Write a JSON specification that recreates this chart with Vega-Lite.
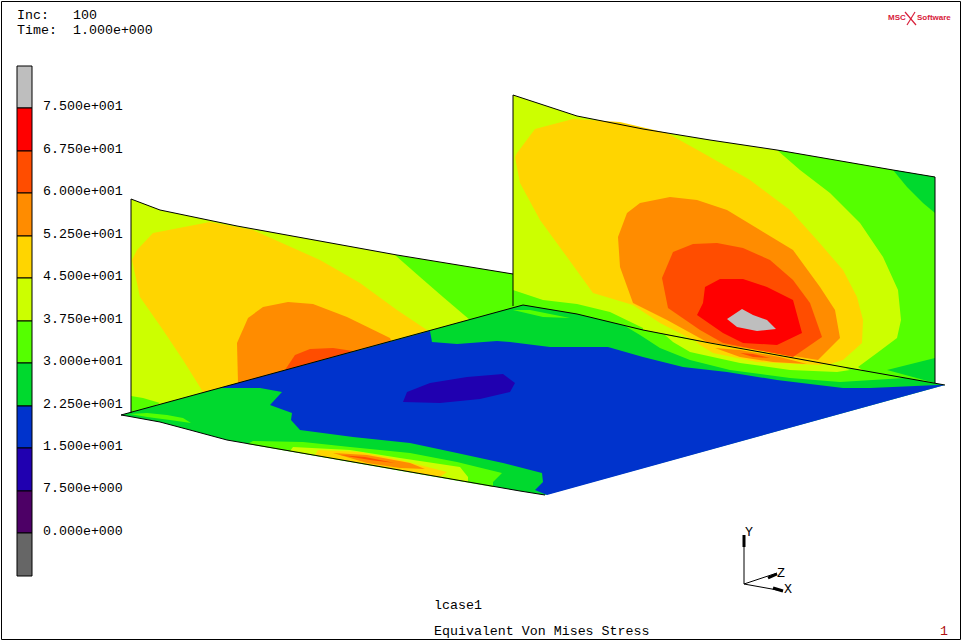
{"$schema":"https://vega.github.io/schema/vega-lite/v6.json","autosize":{"type":"none"},"width":962,"height":642,"padding":0,"background":"white","view":{"stroke":null},
"datasets":{
"patches":[
{"poly":"L0","level":"37.5-45","x":131,"y":199},{"poly":"L0","level":"37.5-45","x":160,"y":210},{"poly":"L0","level":"37.5-45","x":237,"y":226},{"poly":"L0","level":"37.5-45","x":397,"y":255},{"poly":"L0","level":"37.5-45","x":513,"y":274},{"poly":"L0","level":"37.5-45","x":513,"y":320},{"poly":"L0","level":"37.5-45","x":131,"y":414},
{"poly":"L1","level":"30-37.5","x":395,"y":255},{"poly":"L1","level":"30-37.5","x":420,"y":277},{"poly":"L1","level":"30-37.5","x":443,"y":297},{"poly":"L1","level":"30-37.5","x":470,"y":320},{"poly":"L1","level":"30-37.5","x":513,"y":312},{"poly":"L1","level":"30-37.5","x":513,"y":274},
{"poly":"L2","level":"30-37.5","x":131,"y":396},{"poly":"L2","level":"30-37.5","x":143,"y":398},{"poly":"L2","level":"30-37.5","x":160,"y":403},{"poly":"L2","level":"30-37.5","x":140,"y":413},{"poly":"L2","level":"30-37.5","x":131,"y":414},
{"poly":"L3","level":"45-52.5","x":210,"y":222},{"poly":"L3","level":"45-52.5","x":153,"y":233},{"poly":"L3","level":"45-52.5","x":137,"y":250},{"poly":"L3","level":"45-52.5","x":132,"y":260},{"poly":"L3","level":"45-52.5","x":140,"y":297},{"poly":"L3","level":"45-52.5","x":163,"y":330},{"poly":"L3","level":"45-52.5","x":183,"y":360},{"poly":"L3","level":"45-52.5","x":203,"y":392},{"poly":"L3","level":"45-52.5","x":220,"y":395},{"poly":"L3","level":"45-52.5","x":440,"y":340},{"poly":"L3","level":"45-52.5","x":427,"y":330},{"poly":"L3","level":"45-52.5","x":397,"y":310},{"poly":"L3","level":"45-52.5","x":360,"y":283},{"poly":"L3","level":"45-52.5","x":320,"y":260},{"poly":"L3","level":"45-52.5","x":253,"y":230},
{"poly":"L4","level":"52.5-60","x":288,"y":302},{"poly":"L4","level":"52.5-60","x":263,"y":307},{"poly":"L4","level":"52.5-60","x":248,"y":318},{"poly":"L4","level":"52.5-60","x":237,"y":343},{"poly":"L4","level":"52.5-60","x":238,"y":383},{"poly":"L4","level":"52.5-60","x":240,"y":395},{"poly":"L4","level":"52.5-60","x":400,"y":360},{"poly":"L4","level":"52.5-60","x":390,"y":338},{"poly":"L4","level":"52.5-60","x":347,"y":317},{"poly":"L4","level":"52.5-60","x":313,"y":304},
{"poly":"L5","level":"60-67.5","x":285,"y":370},{"poly":"L5","level":"60-67.5","x":295,"y":355},{"poly":"L5","level":"60-67.5","x":310,"y":349},{"poly":"L5","level":"60-67.5","x":333,"y":348},{"poly":"L5","level":"60-67.5","x":353,"y":351},{"poly":"L5","level":"60-67.5","x":370,"y":360},{"poly":"L5","level":"60-67.5","x":290,"y":380},
{"poly":"R0","level":"37.5-45","x":513,"y":95},{"poly":"R0","level":"37.5-45","x":577,"y":116},{"poly":"R0","level":"37.5-45","x":643,"y":129},{"poly":"R0","level":"37.5-45","x":710,"y":140},{"poly":"R0","level":"37.5-45","x":777,"y":150},{"poly":"R0","level":"37.5-45","x":893,"y":170},{"poly":"R0","level":"37.5-45","x":935,"y":177},{"poly":"R0","level":"37.5-45","x":935,"y":383},{"poly":"R0","level":"37.5-45","x":513,"y":312},
{"poly":"R1","level":"30-37.5","x":777,"y":150},{"poly":"R1","level":"30-37.5","x":800,"y":170},{"poly":"R1","level":"30-37.5","x":830,"y":193},{"poly":"R1","level":"30-37.5","x":860,"y":223},{"poly":"R1","level":"30-37.5","x":883,"y":257},{"poly":"R1","level":"30-37.5","x":898,"y":290},{"poly":"R1","level":"30-37.5","x":901,"y":320},{"poly":"R1","level":"30-37.5","x":897,"y":338},{"poly":"R1","level":"30-37.5","x":877,"y":353},{"poly":"R1","level":"30-37.5","x":858,"y":367},{"poly":"R1","level":"30-37.5","x":870,"y":375},{"poly":"R1","level":"30-37.5","x":935,"y":383},{"poly":"R1","level":"30-37.5","x":935,"y":177},{"poly":"R1","level":"30-37.5","x":893,"y":170},
{"poly":"R2","level":"30-37.5","x":513,"y":290},{"poly":"R2","level":"30-37.5","x":543,"y":300},{"poly":"R2","level":"30-37.5","x":577,"y":304},{"poly":"R2","level":"30-37.5","x":610,"y":312},{"poly":"R2","level":"30-37.5","x":643,"y":328},{"poly":"R2","level":"30-37.5","x":643,"y":335},{"poly":"R2","level":"30-37.5","x":513,"y":312},
{"poly":"R3","level":"22.5-30","x":893,"y":170},{"poly":"R3","level":"22.5-30","x":907,"y":187},{"poly":"R3","level":"22.5-30","x":923,"y":203},{"poly":"R3","level":"22.5-30","x":935,"y":213},{"poly":"R3","level":"22.5-30","x":935,"y":177},
{"poly":"R4","level":"22.5-30","x":887,"y":370},{"poly":"R4","level":"22.5-30","x":935,"y":358},{"poly":"R4","level":"22.5-30","x":935,"y":383},
{"poly":"R5","level":"45-52.5","x":573,"y":119},{"poly":"R5","level":"45-52.5","x":535,"y":129},{"poly":"R5","level":"45-52.5","x":517,"y":153},{"poly":"R5","level":"45-52.5","x":515,"y":157},{"poly":"R5","level":"45-52.5","x":520,"y":183},{"poly":"R5","level":"45-52.5","x":540,"y":220},{"poly":"R5","level":"45-52.5","x":567,"y":257},{"poly":"R5","level":"45-52.5","x":593,"y":293},{"poly":"R5","level":"45-52.5","x":633,"y":305},{"poly":"R5","level":"45-52.5","x":660,"y":323},{"poly":"R5","level":"45-52.5","x":697,"y":342},{"poly":"R5","level":"45-52.5","x":827,"y":365},{"poly":"R5","level":"45-52.5","x":843,"y":360},{"poly":"R5","level":"45-52.5","x":862,"y":343},{"poly":"R5","level":"45-52.5","x":863,"y":320},{"poly":"R5","level":"45-52.5","x":857,"y":297},{"poly":"R5","level":"45-52.5","x":843,"y":270},{"poly":"R5","level":"45-52.5","x":817,"y":240},{"poly":"R5","level":"45-52.5","x":790,"y":210},{"poly":"R5","level":"45-52.5","x":750,"y":180},{"poly":"R5","level":"45-52.5","x":710,"y":157},{"poly":"R5","level":"45-52.5","x":667,"y":133},{"poly":"R5","level":"45-52.5","x":620,"y":122},
{"poly":"R6","level":"52.5-60","x":670,"y":197},{"poly":"R6","level":"52.5-60","x":640,"y":203},{"poly":"R6","level":"52.5-60","x":627,"y":213},{"poly":"R6","level":"52.5-60","x":618,"y":237},{"poly":"R6","level":"52.5-60","x":620,"y":267},{"poly":"R6","level":"52.5-60","x":633,"y":303},{"poly":"R6","level":"52.5-60","x":667,"y":320},{"poly":"R6","level":"52.5-60","x":707,"y":342},{"poly":"R6","level":"52.5-60","x":818,"y":360},{"poly":"R6","level":"52.5-60","x":840,"y":338},{"poly":"R6","level":"52.5-60","x":835,"y":310},{"poly":"R6","level":"52.5-60","x":820,"y":287},{"poly":"R6","level":"52.5-60","x":793,"y":250},{"poly":"R6","level":"52.5-60","x":760,"y":230},{"poly":"R6","level":"52.5-60","x":727,"y":210},{"poly":"R6","level":"52.5-60","x":697,"y":200},
{"poly":"R7","level":"60-67.5","x":693,"y":244},{"poly":"R7","level":"60-67.5","x":673,"y":252},{"poly":"R7","level":"60-67.5","x":662,"y":278},{"poly":"R7","level":"60-67.5","x":668,"y":308},{"poly":"R7","level":"60-67.5","x":700,"y":330},{"poly":"R7","level":"60-67.5","x":723,"y":343},{"poly":"R7","level":"60-67.5","x":793,"y":357},{"poly":"R7","level":"60-67.5","x":822,"y":337},{"poly":"R7","level":"60-67.5","x":810,"y":303},{"poly":"R7","level":"60-67.5","x":793,"y":280},{"poly":"R7","level":"60-67.5","x":770,"y":260},{"poly":"R7","level":"60-67.5","x":743,"y":248},{"poly":"R7","level":"60-67.5","x":717,"y":243},
{"poly":"R8","level":"67.5-75","x":720,"y":279},{"poly":"R8","level":"67.5-75","x":705,"y":287},{"poly":"R8","level":"67.5-75","x":703,"y":303},{"poly":"R8","level":"67.5-75","x":697,"y":315},{"poly":"R8","level":"67.5-75","x":723,"y":333},{"poly":"R8","level":"67.5-75","x":743,"y":343},{"poly":"R8","level":"67.5-75","x":777,"y":345},{"poly":"R8","level":"67.5-75","x":802,"y":333},{"poly":"R8","level":"67.5-75","x":793,"y":300},{"poly":"R8","level":"67.5-75","x":767,"y":287},{"poly":"R8","level":"67.5-75","x":743,"y":279},
{"poly":"R9","level":"over 75","x":742,"y":309},{"poly":"R9","level":"over 75","x":727,"y":319},{"poly":"R9","level":"over 75","x":737,"y":327},{"poly":"R9","level":"over 75","x":757,"y":331},{"poly":"R9","level":"over 75","x":776,"y":329},{"poly":"R9","level":"over 75","x":767,"y":320},{"poly":"R9","level":"over 75","x":753,"y":315},
{"poly":"F0","level":"22.5-30","x":121,"y":415},{"poly":"F0","level":"22.5-30","x":523,"y":305},{"poly":"F0","level":"22.5-30","x":577,"y":314},{"poly":"F0","level":"22.5-30","x":643,"y":330},{"poly":"F0","level":"22.5-30","x":710,"y":343},{"poly":"F0","level":"22.5-30","x":777,"y":355},{"poly":"F0","level":"22.5-30","x":843,"y":367},{"poly":"F0","level":"22.5-30","x":945,"y":385},{"poly":"F0","level":"22.5-30","x":545,"y":495},{"poly":"F0","level":"22.5-30","x":520,"y":491},{"poly":"F0","level":"22.5-30","x":227,"y":440},{"poly":"F0","level":"22.5-30","x":190,"y":430},{"poly":"F0","level":"22.5-30","x":160,"y":422},{"poly":"F0","level":"22.5-30","x":127,"y":416},
{"poly":"F1","level":"15-22.5","x":220,"y":388},{"poly":"F1","level":"15-22.5","x":260,"y":388},{"poly":"F1","level":"15-22.5","x":282,"y":392},{"poly":"F1","level":"15-22.5","x":270,"y":405},{"poly":"F1","level":"15-22.5","x":292,"y":413},{"poly":"F1","level":"15-22.5","x":291,"y":420},{"poly":"F1","level":"15-22.5","x":300,"y":430},{"poly":"F1","level":"15-22.5","x":353,"y":437},{"poly":"F1","level":"15-22.5","x":410,"y":443},{"poly":"F1","level":"15-22.5","x":457,"y":453},{"poly":"F1","level":"15-22.5","x":503,"y":463},{"poly":"F1","level":"15-22.5","x":542,"y":473},{"poly":"F1","level":"15-22.5","x":543,"y":482},{"poly":"F1","level":"15-22.5","x":535,"y":490},{"poly":"F1","level":"15-22.5","x":547,"y":495},{"poly":"F1","level":"15-22.5","x":945,"y":385},{"poly":"F1","level":"15-22.5","x":938,"y":385},{"poly":"F1","level":"15-22.5","x":870,"y":388},{"poly":"F1","level":"15-22.5","x":843,"y":388},{"poly":"F1","level":"15-22.5","x":777,"y":380},{"poly":"F1","level":"15-22.5","x":727,"y":372},{"poly":"F1","level":"15-22.5","x":683,"y":367},{"poly":"F1","level":"15-22.5","x":643,"y":357},{"poly":"F1","level":"15-22.5","x":608,"y":347},{"poly":"F1","level":"15-22.5","x":550,"y":347},{"poly":"F1","level":"15-22.5","x":510,"y":342},{"poly":"F1","level":"15-22.5","x":497,"y":341},{"poly":"F1","level":"15-22.5","x":457,"y":344},{"poly":"F1","level":"15-22.5","x":432,"y":342},{"poly":"F1","level":"15-22.5","x":430,"y":331},
{"poly":"F2","level":"7.5-15","x":403,"y":402},{"poly":"F2","level":"7.5-15","x":407,"y":392},{"poly":"F2","level":"7.5-15","x":430,"y":383},{"poly":"F2","level":"7.5-15","x":467,"y":377},{"poly":"F2","level":"7.5-15","x":503,"y":374},{"poly":"F2","level":"7.5-15","x":515,"y":383},{"poly":"F2","level":"7.5-15","x":510,"y":392},{"poly":"F2","level":"7.5-15","x":480,"y":399},{"poly":"F2","level":"7.5-15","x":440,"y":403},
{"poly":"F3","level":"30-37.5","x":513,"y":310},{"poly":"F3","level":"30-37.5","x":530,"y":310},{"poly":"F3","level":"30-37.5","x":570,"y":318},{"poly":"F3","level":"30-37.5","x":543,"y":317},
{"poly":"F4","level":"30-37.5","x":625,"y":326},{"poly":"F4","level":"30-37.5","x":643,"y":330},{"poly":"F4","level":"30-37.5","x":710,"y":343},{"poly":"F4","level":"30-37.5","x":777,"y":355},{"poly":"F4","level":"30-37.5","x":843,"y":367},{"poly":"F4","level":"30-37.5","x":905,"y":378},{"poly":"F4","level":"30-37.5","x":840,"y":382},{"poly":"F4","level":"30-37.5","x":790,"y":378},{"poly":"F4","level":"30-37.5","x":730,"y":370},{"poly":"F4","level":"30-37.5","x":690,"y":360},{"poly":"F4","level":"30-37.5","x":660,"y":348},{"poly":"F4","level":"30-37.5","x":640,"y":335},
{"poly":"F5","level":"37.5-45","x":665,"y":335},{"poly":"F5","level":"37.5-45","x":710,"y":343},{"poly":"F5","level":"37.5-45","x":777,"y":355},{"poly":"F5","level":"37.5-45","x":843,"y":367},{"poly":"F5","level":"37.5-45","x":850,"y":370},{"poly":"F5","level":"37.5-45","x":837,"y":372},{"poly":"F5","level":"37.5-45","x":790,"y":370},{"poly":"F5","level":"37.5-45","x":740,"y":363},{"poly":"F5","level":"37.5-45","x":690,"y":352},{"poly":"F5","level":"37.5-45","x":673,"y":342},
{"poly":"F6","level":"45-52.5","x":695,"y":341},{"poly":"F6","level":"45-52.5","x":777,"y":355},{"poly":"F6","level":"45-52.5","x":825,"y":364},{"poly":"F6","level":"45-52.5","x":820,"y":365},{"poly":"F6","level":"45-52.5","x":757,"y":362},{"poly":"F6","level":"45-52.5","x":713,"y":353},{"poly":"F6","level":"45-52.5","x":700,"y":345},
{"poly":"F7","level":"52.5-60","x":715,"y":348},{"poly":"F7","level":"52.5-60","x":740,"y":350},{"poly":"F7","level":"52.5-60","x":780,"y":357},{"poly":"F7","level":"52.5-60","x":807,"y":364},{"poly":"F7","level":"52.5-60","x":773,"y":362},{"poly":"F7","level":"52.5-60","x":740,"y":357},
{"poly":"F8","level":"60-67.5","x":740,"y":353},{"poly":"F8","level":"60-67.5","x":753,"y":354},{"poly":"F8","level":"60-67.5","x":770,"y":358},{"poly":"F8","level":"60-67.5","x":753,"y":357},
{"poly":"F9","level":"30-37.5","x":130,"y":414},{"poly":"F9","level":"30-37.5","x":147,"y":413},{"poly":"F9","level":"30-37.5","x":167,"y":415},{"poly":"F9","level":"30-37.5","x":183,"y":418},{"poly":"F9","level":"30-37.5","x":191,"y":423},{"poly":"F9","level":"30-37.5","x":170,"y":420},{"poly":"F9","level":"30-37.5","x":147,"y":417},
{"poly":"F10","level":"30-37.5","x":253,"y":441},{"poly":"F10","level":"30-37.5","x":303,"y":442},{"poly":"F10","level":"30-37.5","x":350,"y":447},{"poly":"F10","level":"30-37.5","x":410,"y":453},{"poly":"F10","level":"30-37.5","x":457,"y":462},{"poly":"F10","level":"30-37.5","x":502,"y":473},{"poly":"F10","level":"30-37.5","x":493,"y":482},{"poly":"F10","level":"30-37.5","x":493,"y":487},{"poly":"F10","level":"30-37.5","x":247,"y":444},
{"poly":"F11","level":"37.5-45","x":293,"y":447},{"poly":"F11","level":"37.5-45","x":350,"y":450},{"poly":"F11","level":"37.5-45","x":400,"y":458},{"poly":"F11","level":"37.5-45","x":460,"y":467},{"poly":"F11","level":"37.5-45","x":468,"y":477},{"poly":"F11","level":"37.5-45","x":468,"y":482},{"poly":"F11","level":"37.5-45","x":290,"y":451},
{"poly":"F12","level":"45-52.5","x":318,"y":450},{"poly":"F12","level":"45-52.5","x":360,"y":452},{"poly":"F12","level":"45-52.5","x":400,"y":460},{"poly":"F12","level":"45-52.5","x":447,"y":472},{"poly":"F12","level":"45-52.5","x":440,"y":477},{"poly":"F12","level":"45-52.5","x":315,"y":455},
{"poly":"F13","level":"52.5-60","x":333,"y":453},{"poly":"F13","level":"52.5-60","x":367,"y":455},{"poly":"F13","level":"52.5-60","x":410,"y":463},{"poly":"F13","level":"52.5-60","x":425,"y":469},{"poly":"F13","level":"52.5-60","x":400,"y":468},{"poly":"F13","level":"52.5-60","x":367,"y":463},
{"poly":"F14","level":"60-67.5","x":340,"y":455},{"poly":"F14","level":"60-67.5","x":365,"y":457},{"poly":"F14","level":"60-67.5","x":395,"y":463},{"poly":"F14","level":"60-67.5","x":370,"y":460}
],
"edges":[
{"edge":"frame","x":1.5,"y":1.5},{"edge":"frame","x":960.5,"y":1.5},{"edge":"frame","x":960.5,"y":639.5},{"edge":"frame","x":1.5,"y":639.5},{"edge":"frame","x":1.5,"y":1.5},
{"edge":"left wall","x":131,"y":413},{"edge":"left wall","x":131,"y":199},{"edge":"left wall","x":160,"y":210},{"edge":"left wall","x":237,"y":226},{"edge":"left wall","x":397,"y":255},{"edge":"left wall","x":513,"y":274},
{"edge":"right wall","x":513,"y":306},{"edge":"right wall","x":513,"y":95},{"edge":"right wall","x":577,"y":116},{"edge":"right wall","x":643,"y":129},{"edge":"right wall","x":710,"y":140},{"edge":"right wall","x":777,"y":150},{"edge":"right wall","x":893,"y":170},{"edge":"right wall","x":935,"y":177},{"edge":"right wall","x":935,"y":383},
{"edge":"floor","x":945,"y":385},{"edge":"floor","x":843,"y":367},{"edge":"floor","x":777,"y":355},{"edge":"floor","x":710,"y":343},{"edge":"floor","x":643,"y":330},{"edge":"floor","x":577,"y":314},{"edge":"floor","x":523,"y":305},{"edge":"floor","x":121,"y":415},{"edge":"floor","x":127,"y":416},{"edge":"floor","x":160,"y":422},{"edge":"floor","x":190,"y":430},{"edge":"floor","x":227,"y":440},{"edge":"floor","x":520,"y":491},{"edge":"floor","x":545,"y":495},
{"edge":"y axis","x":744,"y":584},{"edge":"y axis","x":744,"y":535},
{"edge":"z axis","x":744,"y":584},{"edge":"z axis","x":777,"y":573},
{"edge":"x axis","x":744,"y":584},{"edge":"x axis","x":783,"y":591}
],
"arrows":[
{"edge":"y head","x":744,"y":535},{"edge":"y head","x":744,"y":547},
{"edge":"z head","x":768,"y":578},{"edge":"z head","x":777,"y":574},
{"edge":"x head","x":773,"y":588},{"edge":"x head","x":783,"y":591}
],
"logoStroke":[
{"edge":"a","x":905,"y":12},{"edge":"a","x":916,"y":25},
{"edge":"b","x":907,"y":25},{"edge":"b","x":915,"y":12}
],
"legend":[
{"level":"over 75","left":17,"right":32,"top":66,"bottom":108},{"level":"67.5-75","left":17,"right":32,"top":108,"bottom":151},{"level":"60-67.5","left":17,"right":32,"top":151,"bottom":193},{"level":"52.5-60","left":17,"right":32,"top":193,"bottom":236},{"level":"45-52.5","left":17,"right":32,"top":236,"bottom":278},{"level":"37.5-45","left":17,"right":32,"top":278,"bottom":321},{"level":"30-37.5","left":17,"right":32,"top":321,"bottom":363},{"level":"22.5-30","left":17,"right":32,"top":363,"bottom":406},{"level":"15-22.5","left":17,"right":32,"top":406,"bottom":448},{"level":"7.5-15","left":17,"right":32,"top":448,"bottom":491},{"level":"0-7.5","left":17,"right":32,"top":491,"bottom":533},{"level":"under 0","left":17,"right":32,"top":533,"bottom":576}
],
"labels":[
{"x":43,"y":106,"text":"7.500e+001"},{"x":43,"y":149,"text":"6.750e+001"},{"x":43,"y":191,"text":"6.000e+001"},{"x":43,"y":234,"text":"5.250e+001"},{"x":43,"y":276,"text":"4.500e+001"},{"x":43,"y":319,"text":"3.750e+001"},{"x":43,"y":361,"text":"3.000e+001"},{"x":43,"y":404,"text":"2.250e+001"},{"x":43,"y":446,"text":"1.500e+001"},{"x":43,"y":488,"text":"7.500e+000"},{"x":43,"y":531,"text":"0.000e+000"},
{"x":17,"y":15,"text":"Inc:"},{"x":73,"y":15,"text":"100"},{"x":17,"y":30,"text":"Time:"},{"x":73,"y":30,"text":"1.000e+000"},
{"x":434,"y":605,"text":"lcase1"},{"x":434,"y":631,"text":"Equivalent Von Mises Stress"},
{"x":745,"y":532,"text":"Y"},{"x":777,"y":573,"text":"Z"},{"x":784,"y":589,"text":"X"}
],
"page":[{"x":940,"y":631,"text":"1"}],
"logo":[{"x":888,"y":18,"text":"MSC"},{"x":917,"y":18,"text":"Software"}]
},
"encoding":{
"x":{"field":"x","type":"quantitative","axis":null,"scale":{"domain":[0,962],"nice":false,"zero":false}},
"y":{"field":"y","type":"quantitative","axis":null,"scale":{"domain":[642,0],"nice":false,"zero":false}}
},
"layer":[
{"data":{"name":"patches"},"mark":{"type":"line","strokeWidth":0,"interpolate":"linear-closed"},
"encoding":{"detail":{"field":"poly"},"order":{"value":null},"fill":{"field":"level","type":"nominal","legend":null,"scale":{"domain":["over 75","67.5-75","60-67.5","52.5-60","45-52.5","37.5-45","30-37.5","22.5-30","15-22.5","7.5-15","0-7.5","under 0"],"range":["#bebebe","#ff0000","#ff4d00","#ff8c00","#ffd500","#ccff00","#55ff00","#00d92e","#0033cc","#2000b0","#4d0066","#666666"]}}}},
{"data":{"name":"edges"},"mark":{"type":"line","color":"#000000","strokeWidth":1},"encoding":{"detail":{"field":"edge"},"order":{"value":null}}},
{"data":{"name":"arrows"},"mark":{"type":"line","color":"#000000","strokeWidth":3},"encoding":{"detail":{"field":"edge"},"order":{"value":null}}},
{"data":{"name":"logoStroke"},"mark":{"type":"line","color":"#d8203a","strokeWidth":1.2},"encoding":{"detail":{"field":"edge"},"order":{"value":null}}},
{"data":{"name":"legend"},"mark":{"type":"rect","stroke":"#000000","strokeWidth":1},
"encoding":{"x":{"field":"left","type":"quantitative"},"x2":{"field":"right"},"y":{"field":"top","type":"quantitative"},"y2":{"field":"bottom"},"fill":{"field":"level","type":"nominal","legend":null}}},
{"data":{"name":"labels"},"mark":{"type":"text","align":"left","baseline":"middle","font":"Liberation Mono","fontSize":13.3,"color":"#000000"},"encoding":{"text":{"field":"text"}}},
{"data":{"name":"page"},"mark":{"type":"text","align":"left","baseline":"middle","font":"Liberation Mono","fontSize":13.3,"color":"#b01010"},"encoding":{"text":{"field":"text"}}},
{"data":{"name":"logo"},"mark":{"type":"text","align":"left","baseline":"middle","font":"Liberation Sans","fontWeight":"bold","fontSize":8,"color":"#d8203a"},"encoding":{"text":{"field":"text"}}}
]}
